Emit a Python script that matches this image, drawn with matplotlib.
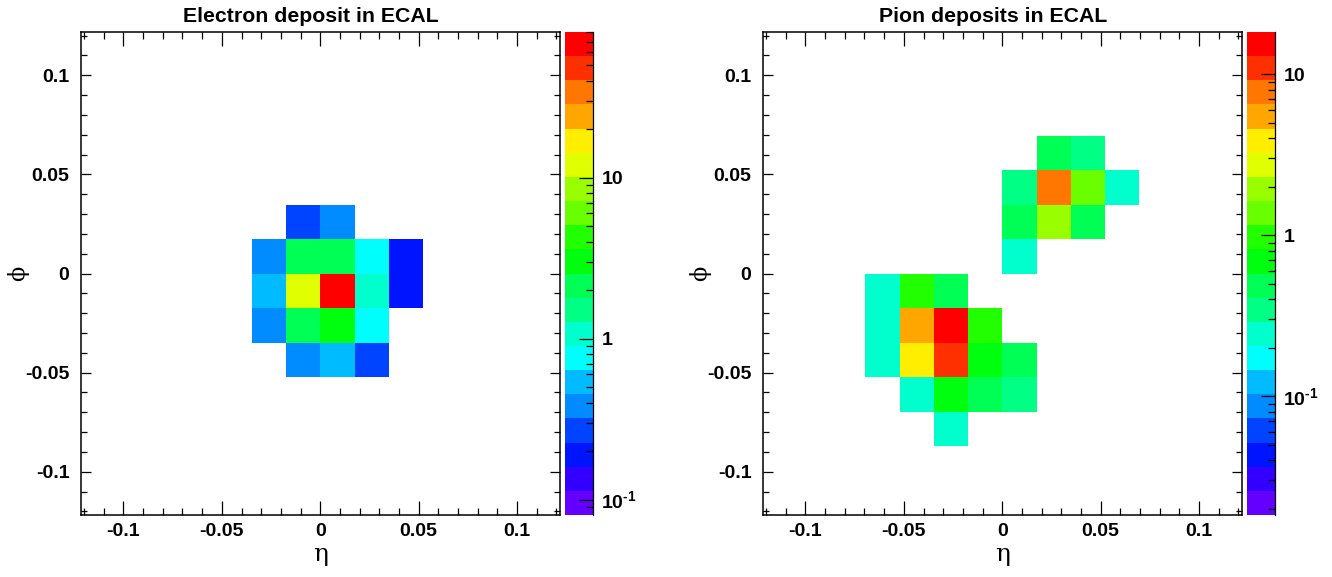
#!/usr/bin/env python3
"""ECAL deposits of an electron and a pion, ROOT-style COLZ maps."""
import colorsys

import matplotlib
matplotlib.use("Agg")
import matplotlib.pyplot as plt
import numpy as np
from matplotlib.colors import ListedColormap, LogNorm
from matplotlib.ticker import FixedFormatter, FixedLocator, LogLocator, MultipleLocator, NullFormatter

# crystal grid: 14 x 14 cells of 0.0174 in eta and phi
CELL = 0.0174
N_BINS = 14

# electron: (eta bin, phi bin, energy)
ele_ieta = [6, 7, 5, 6, 7, 8, 9, 5, 6, 7, 8, 9, 5, 6, 7, 8, 6, 7, 8]
ele_iphi = [8, 8, 7, 7, 7, 7, 7, 6, 6, 6, 6, 6, 5, 5, 5, 5, 4, 4, 4]
ele_e    = [0.264, 0.373, 0.373, 2.11, 2.11, 0.745, 0.186,
            0.527, 11.9, 80.2, 1.05, 0.186,
            0.373, 2.11, 2.98, 0.745,
            0.373, 0.527, 0.264]

# pion: two clusters
pi_ieta = [8, 9, 7, 8, 9, 10, 7, 8, 9, 7,
           3, 4, 5, 3, 4, 5, 6, 3, 4, 5, 6, 7, 4, 5, 6, 7, 5]
pi_iphi = [10, 10, 9, 9, 9, 9, 8, 8, 8, 7,
           6, 6, 6, 5, 5, 5, 5, 4, 4, 4, 4, 4, 3, 3, 3, 3, 2]
pi_e    = [0.488, 0.345, 0.345, 7.73, 1.37, 0.244, 0.488, 1.94, 0.488, 0.244,
           0.244, 0.973, 0.488, 0.244, 5.47, 18.3, 0.973,
           0.244, 3.87, 10.9, 0.689, 0.488,
           0.244, 0.689, 0.488, 0.345, 0.244]

TITLES = ["Electron deposit in ECAL", "Pion deposits in ECAL"]
CB_TICKS = [0.1, 1, 10]
CB_LABELS = ["10$^{\\text{-1}}$", "1", "10"]

FONT = "Liberation Sans"
plt.rcParams.update({
    "font.family": FONT,
    "font.weight": "bold",
    "mathtext.fontset": "custom",
    "mathtext.rm": "Liberation Sans:bold",
    "mathtext.default": "rm",
})


def root_palette(ncont: int = 20) -> ListedColormap:
    # ROOT "pretty" palette (51..100), sampled for ncont contours
    cols = []
    for k in range(ncont):
        idx = int((k + 0.99) * 50 / ncont)
        hue = 280.0 - (idx + 1) * 5.6
        cols.append(colorsys.hls_to_rgb(hue / 360.0, 0.5, 1.0))
    return ListedColormap(cols)


def make_grid(ieta, iphi, e):
    grid = np.full((N_BINS, N_BINS), np.nan)
    for i, j, v in zip(ieta, iphi, e):
        grid[j, i] = v
    return np.ma.masked_invalid(grid)


def fmt_tick(v, _pos):
    return "0" if abs(v) < 1e-9 else f"{v:g}"


def draw_panel(fig, x0, title, grid):
    W, H = 1332.0, 577.0
    ax = fig.add_axes([x0 / W, 62 / H, 479.5 / W, 483 / H])
    cax = fig.add_axes([(x0 + 484.5) / W, 62 / H, 28 / W, 483 / H])

    edges = -N_BINS * CELL / 2 + CELL * np.arange(N_BINS + 1)
    zmax = float(grid.max())
    norm = LogNorm(vmin=zmax / 1000.0, vmax=zmax)
    mesh = ax.pcolormesh(edges, edges, grid, cmap=root_palette(), norm=norm,
                         edgecolors="none", antialiased=False)

    ax.set_xlim(edges[0], edges[-1])
    ax.set_ylim(edges[0], edges[-1])
    ax.xaxis.set_major_locator(MultipleLocator(0.05))
    ax.xaxis.set_minor_locator(MultipleLocator(0.01))
    ax.yaxis.set_major_locator(MultipleLocator(0.05))
    ax.yaxis.set_minor_locator(MultipleLocator(0.01))
    ax.xaxis.set_major_formatter(plt.FuncFormatter(fmt_tick))
    ax.yaxis.set_major_formatter(plt.FuncFormatter(fmt_tick))
    ax.tick_params(axis="x", which="major", direction="in", length=10, width=0.9,
                   top=True, labelsize=14, pad=6)
    ax.tick_params(axis="x", which="minor", direction="in", length=5, width=0.9, top=True)
    ax.tick_params(axis="y", which="major", direction="in", length=7, width=0.9,
                   right=True, labelsize=14, pad=8)
    ax.tick_params(axis="y", which="minor", direction="in", length=4.5, width=0.9, right=True)
    for lab in ax.get_xticklabels() + ax.get_yticklabels():
        lab.set_fontweight("bold")
    for sp in ax.spines.values():
        sp.set_linewidth(1.1)

    ax.set_xlabel("\u03b7", family="DejaVu Serif", fontweight="normal", fontsize=18, labelpad=2)
    ax.set_ylabel("\u03d5", family="DejaVu Serif", fontweight="normal", fontsize=16)
    ax.yaxis.set_label_coords(-51.0 / 479.5, 0.5)
    ax.set_title(title, fontsize=15.3, fontweight="bold", pad=7.5, x=0.481)

    cb = fig.colorbar(mesh, cax=cax)
    cb.outline.set_visible(False)
    cax.plot([1, 1], [0, 1], transform=cax.transAxes, color="k", lw=0.9, clip_on=False)
    cax.yaxis.set_major_locator(FixedLocator(CB_TICKS))
    cax.yaxis.set_major_formatter(FixedFormatter(CB_LABELS))
    cax.yaxis.set_minor_locator(LogLocator(base=10, subs=np.arange(2, 10)))
    cax.yaxis.set_minor_formatter(NullFormatter())
    cax.tick_params(axis="y", which="major", direction="in", length=10, width=0.9,
                    labelsize=14, pad=6)
    cax.tick_params(axis="y", which="minor", direction="in", length=5, width=0.9)
    return ax


def main() -> None:
    fig = plt.figure(figsize=(13.32, 5.77), dpi=100)
    draw_panel(fig, 80.5, TITLES[0], make_grid(ele_ieta, ele_iphi, ele_e))
    draw_panel(fig, 762.5, TITLES[1], make_grid(pi_ieta, pi_iphi, pi_e))
    fig.savefig("out.png", dpi=100, facecolor="white")
    plt.close(fig)


if __name__ == "__main__":
    main()
